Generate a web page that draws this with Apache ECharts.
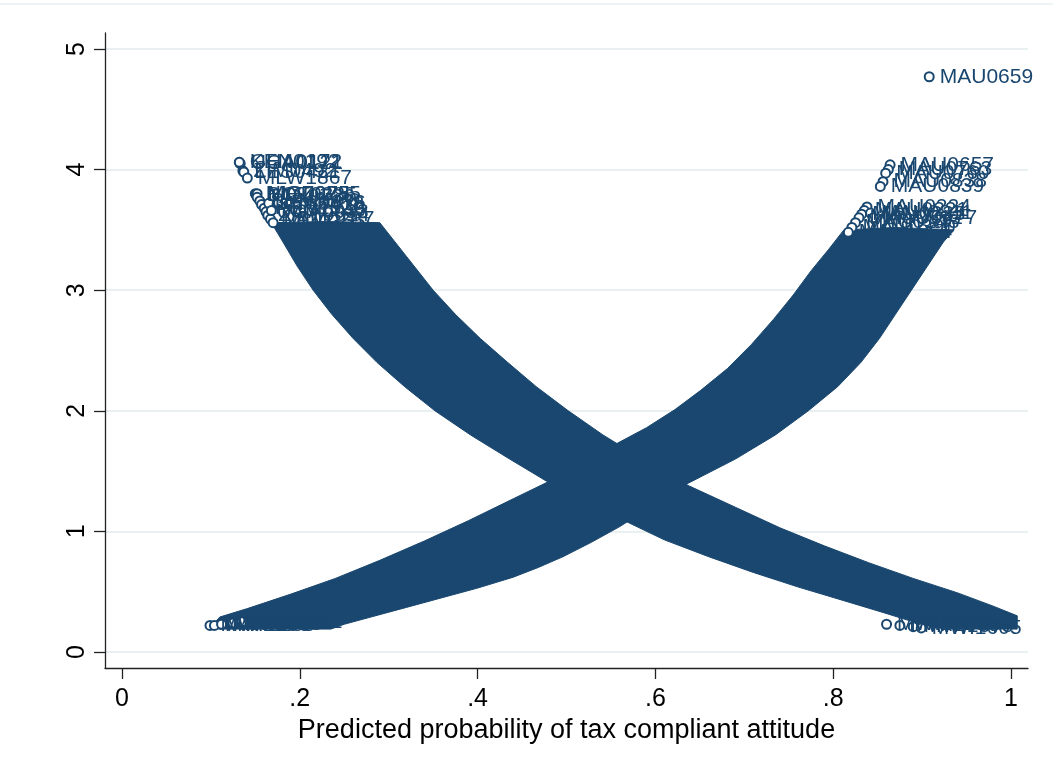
<!DOCTYPE html>
<html>
<head>
<meta charset="utf-8">
<script src="https://cdn.jsdelivr.net/npm/echarts@6/dist/echarts.min.js"></script>
<style>
  html, body { margin: 0; padding: 0; background: #ffffff; }
  #chart { width: 1053px; height: 771px; }
</style>
</head>
<body>
<div id="chart"></div>
<script>
// Axis ticks
const xTicks = [0, 0.2, 0.4, 0.6, 0.8, 1];
const yTicks = [0, 1, 2, 3, 4, 5];

// Outline of the dense falling cloud of respondents (x = predicted probability, y = score)
const fallingBand = [
  [0.170, 3.56], [0.230, 3.57], [0.290, 3.56],
  [0.320, 3.28], [0.350, 3.00], [0.375, 2.80], [0.403, 2.60], [0.434, 2.40],
  [0.466, 2.20], [0.502, 2.00], [0.541, 1.80], [0.585, 1.60], [0.637, 1.38],
  [0.690, 1.20], [0.740, 1.03], [0.790, 0.88], [0.840, 0.74], [0.890, 0.61],
  [0.940, 0.49], [0.980, 0.38], [1.007, 0.30], [1.007, 0.19],
  [0.960, 0.19], [0.915, 0.20], [0.890, 0.25], [0.855, 0.33], [0.810, 0.43],
  [0.760, 0.54], [0.710, 0.66], [0.660, 0.79], [0.610, 0.93], [0.562, 1.10],
  [0.479, 1.41], [0.436, 1.60], [0.392, 1.80], [0.352, 2.00], [0.318, 2.20],
  [0.287, 2.40], [0.260, 2.60], [0.236, 2.80], [0.215, 3.00], [0.197, 3.20],
  [0.181, 3.40], [0.168, 3.56]
];

// Outline of the dense rising cloud of respondents
const risingBand = [
  [0.099, 0.20], [0.110, 0.29], [0.141, 0.36], [0.190, 0.48], [0.240, 0.61],
  [0.290, 0.76], [0.340, 0.92], [0.390, 1.09], [0.440, 1.27], [0.479, 1.41],
  [0.557, 1.73], [0.590, 1.86], [0.622, 2.01], [0.651, 2.17], [0.681, 2.35],
  [0.708, 2.55], [0.733, 2.76], [0.755, 2.96], [0.775, 3.16], [0.795, 3.34],
  [0.812, 3.50], [0.870, 3.52], [0.936, 3.50],
  [0.924, 3.40], [0.906, 3.20], [0.888, 3.00], [0.870, 2.80], [0.852, 2.60],
  [0.831, 2.40], [0.805, 2.20], [0.772, 2.00], [0.735, 1.80], [0.690, 1.60],
  [0.637, 1.40], [0.560, 1.04], [0.528, 0.91], [0.496, 0.79], [0.468, 0.70],
  [0.440, 0.62], [0.400, 0.53], [0.360, 0.45], [0.320, 0.37], [0.280, 0.29],
  [0.250, 0.23], [0.235, 0.19], [0.110, 0.19]
];

// Individually labelled respondents at the sparse ends of the clouds
const pointIds = [
  'GHA0172', 'UGA0121', 'KEN0192', 'ZIM0492', 'LES0421', 'MLW1867',
  'NIG0375', 'BOT0385', 'MOZ0285', 'TAN0736', 'SEN0570', 'GHA0418',
  'KEN1520', 'UGA0933', 'ZAM0614', 'NAM0287', 'MLI0355', 'LES0876', 'NIG1746',
  'MAU0657', 'MAU0763', 'MAU0760', 'MAU0838', 'MAU0839',
  'MAU0224', 'MAU0221', 'MAU0235', 'MAU0512', 'MAU0148', 'MAU0390',
  'MAU1064', 'MAU0811', 'MAU0477',
  'MWI2283', 'MWI2285', 'MWI1563', 'MWI2266', 'MWI0781',
  'MWI1923', 'MWI1935', 'MWI1875', 'MWI1605',
  'MAU0659'
];
const pointX = [
  0.132, 0.133, 0.132, 0.136, 0.137, 0.141,
  0.150, 0.151, 0.152, 0.152, 0.155, 0.157,
  0.160, 0.162, 0.164, 0.167, 0.170, 0.165, 0.168,
  0.864, 0.862, 0.859, 0.856, 0.853,
  0.838, 0.835, 0.832, 0.829, 0.825, 0.821,
  0.817, 0.842, 0.845,
  0.099, 0.104, 0.112, 0.125, 0.135,
  0.860, 0.875, 0.890, 0.899,
  0.908
];
const pointY = [
  4.06, 4.05, 4.06, 3.99, 3.98, 3.93,
  3.80, 3.79, 3.80, 3.77, 3.74, 3.71,
  3.68, 3.65, 3.62, 3.59, 3.56, 3.72, 3.66,
  4.04, 4.00, 3.97, 3.90, 3.86,
  3.69, 3.66, 3.63, 3.60, 3.56, 3.52,
  3.48, 3.64, 3.60,
  0.22, 0.22, 0.23, 0.24, 0.25,
  0.23, 0.22, 0.21, 0.20,
  4.77
];

const NAVY = '#1a476f';
const FONT = '"Liberation Sans", Arial, Helvetica, sans-serif';

function bandSeries(name, outline) {
  return {
    name: name,
    type: 'custom',
    coordinateSystem: 'cartesian2d',
    silent: true,
    clip: true,
    data: [[outline[0][0], outline[0][1]]],
    renderItem: function (params, api) {
      return {
        type: 'polygon',
        shape: { points: outline.map(function (p) { return api.coord(p); }) },
        style: { fill: NAVY, stroke: NAVY, lineWidth: 1 }
      };
    },
    z: 2
  };
}

const points = pointIds.map(function (id, i) {
  return { value: [pointX[i], pointY[i]], name: id };
});

const chart = echarts.init(document.getElementById('chart'), null, { renderer: 'canvas' });

chart.setOption({
  animation: false,
  backgroundColor: '#ffffff',
  textStyle: { fontFamily: FONT },
  grid: { left: 105, right: 25, top: 33, bottom: 103, containLabel: false },
  xAxis: {
    type: 'value',
    min: -0.0191,
    max: 1.0191,
    name: 'Predicted probability of tax compliant attitude',
    nameLocation: 'middle',
    nameGap: 43,
    nameTextStyle: { fontSize: 27, color: '#000000', fontFamily: FONT },
    axisLine: { show: true, onZero: false, lineStyle: { color: '#222222', width: 1.3 } },
    axisTick: { show: true, length: 11, customValues: xTicks, lineStyle: { color: '#222222', width: 1.3 } },
    axisLabel: {
      customValues: xTicks,
      margin: 19,
      fontSize: 25,
      color: '#000000',
      fontFamily: FONT,
      formatter: function (v) {
        if (v === 0) return '0';
        if (v === 1) return '1';
        return String(v).replace(/^0/, '');
      }
    },
    splitLine: { show: false }
  },
  yAxis: {
    type: 'value',
    min: -0.1327,
    max: 5.1327,
    axisLine: { show: true, onZero: false, lineStyle: { color: '#222222', width: 1.3 } },
    axisTick: { show: true, length: 11, customValues: yTicks, lineStyle: { color: '#222222', width: 1.3 } },
    axisLabel: {
      customValues: yTicks,
      rotate: 90,
      margin: 15,
      fontSize: 25,
      color: '#000000',
      fontFamily: FONT
    },
    splitLine: { show: true, lineStyle: { color: '#e8f0f2', width: 2 } }
  },
  graphic: [
    { type: 'line', shape: { x1: 0, y1: 4, x2: 1053, y2: 4 }, style: { stroke: '#eef3f5', lineWidth: 2 }, silent: true }
  ],
  series: [
    bandSeries('falling', fallingBand),
    bandSeries('rising', risingBand),
    {
      type: 'scatter',
      data: points,
      symbol: 'emptyCircle',
      symbolSize: 9,
      itemStyle: { color: NAVY, borderColor: NAVY, borderWidth: 2.2, opacity: 1 },
      label: {
        show: true,
        position: 'right',
        distance: 5,
        formatter: function (p) { return p.name; },
        color: NAVY,
        opacity: 1,
        fontSize: 21,
        fontFamily: FONT
      },
      labelLayout: { hideOverlap: false },
      emphasis: { disabled: true },
      z: 3
    }
  ]
});
</script>
</body>
</html>
